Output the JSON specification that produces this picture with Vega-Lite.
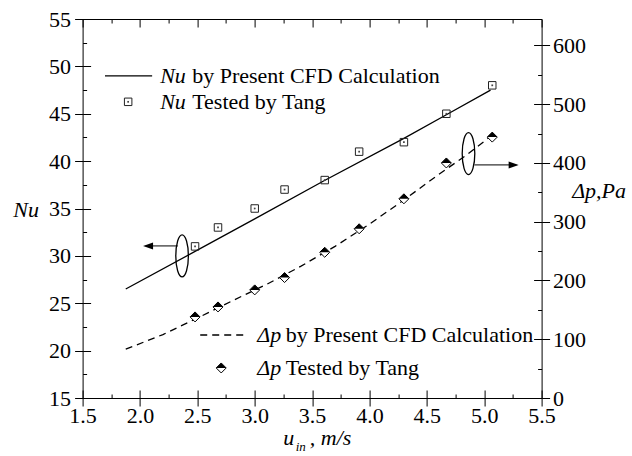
{
  "$schema": "https://vega.github.io/schema/vega-lite/v6.json",
  "width": 459,
  "height": 379,
  "autosize": {"type": "none"},
  "padding": {"left": 82.6, "top": 19, "right": 90.4, "bottom": 58},
  "background": "white",
  "config": {
    "font": "serif",
    "view": {"stroke": "black", "strokeWidth": 1},
    "axis": {
      "grid": false, "domain": false,
      "tickColor": "black", "tickWidth": 1,
      "labelColor": "black", "labelFont": "serif", "labelFontSize": 22,
      "labelFlush": false, "labelOverlap": false, "labelBound": false,
      "titleFont": "serif", "titleFontSize": 22, "titleFontStyle": "italic",
      "titleFontWeight": "normal", "titleColor": "black"
    }
  },
  "datasets": {
    "nu_calc": [
      {"u": 1.876, "Nu": 26.5}, {"u": 2.5, "Nu": 30.6}, {"u": 3.0, "Nu": 33.9},
      {"u": 3.6, "Nu": 37.9}, {"u": 4.3, "Nu": 42.4}, {"u": 4.67, "Nu": 44.9}, {"u": 5.055, "Nu": 47.5}
    ],
    "nu_test": [
      {"u": 2.48, "Nu": 31}, {"u": 2.68, "Nu": 33}, {"u": 3.0, "Nu": 35}, {"u": 3.26, "Nu": 37},
      {"u": 3.61, "Nu": 38}, {"u": 3.91, "Nu": 41}, {"u": 4.3, "Nu": 42}, {"u": 4.67, "Nu": 45}, {"u": 5.07, "Nu": 48}
    ],
    "dp_calc": [
      {"u": 1.876, "dp": 83}, {"u": 2.2, "dp": 108}, {"u": 2.5, "dp": 136}, {"u": 2.8, "dp": 165},
      {"u": 3.1, "dp": 193}, {"u": 3.4, "dp": 224}, {"u": 3.7, "dp": 258}, {"u": 4.0, "dp": 296},
      {"u": 4.3, "dp": 337}, {"u": 4.6, "dp": 380}, {"u": 4.85, "dp": 414}, {"u": 5.06, "dp": 446}
    ],
    "dp_test": [
      {"u": 2.48, "dp": 138}, {"u": 2.68, "dp": 155}, {"u": 3.0, "dp": 184}, {"u": 3.26, "dp": 205},
      {"u": 3.61, "dp": 248}, {"u": 3.91, "dp": 288}, {"u": 4.3, "dp": 339}, {"u": 4.67, "dp": 400}, {"u": 5.07, "dp": 444}
    ],
    "leg_solid": [{"u": 1.695, "u2": 2.106, "Nu": 49.0}],
    "leg_dash": [{"u": 2.525, "u2": 2.9, "Nu": 21.65}],
    "leg_square": [{"u": 1.897, "Nu": 46.26}],
    "leg_diamond": [{"u": 2.708, "Nu": 18.17}],
    "ellipses": [{"u": 2.367, "Nu": 30.0}, {"u": 4.863, "Nu": 40.8}],
    "arrows": [{"u": 2.33, "u2": 2.05, "Nu": 31.05}, {"u": 4.915, "u2": 5.28, "Nu": 39.6}],
    "head_left": [{"u": 2.027, "Nu": 31.05}],
    "head_right": [{"u": 5.30, "Nu": 39.6}],
    "txt_italic": [
      {"u": 2.176, "Nu": 49.0, "t": "Nu"},
      {"u": 2.176, "Nu": 46.26, "t": "Nu"},
      {"u": 3.022, "Nu": 21.65, "t": "Δp"},
      {"u": 3.022, "Nu": 18.17, "t": "Δp"},
      {"u": 3.249, "Nu": 10.8, "t": "u"},
      {"u": 3.48, "Nu": 10.8, "t": ", m/s"}
    ],
    "txt_regular": [
      {"u": 2.455, "Nu": 49.0, "t": "by Present CFD Calculation"},
      {"u": 2.455, "Nu": 46.26, "t": "Tested by Tang"},
      {"u": 3.27, "Nu": 21.65, "t": "by Present CFD Calculation"},
      {"u": 3.27, "Nu": 18.17, "t": "Tested by Tang"}
    ],
    "txt_sub": [{"u": 3.357, "Nu": 9.8, "t": "in"}]
  },
  "resolve": {"scale": {"y": "independent"}, "axis": {"x": "independent", "y": "independent"}},
  "layer": [
    {
      "data": {"name": "nu_calc"},
      "mark": {"type": "line", "color": "black", "strokeWidth": 1.3},
      "encoding": {
        "x": {"field": "u", "type": "quantitative", "scale": {"domain": [1.5, 5.5], "nice": false, "zero": false},
          "axis": {"orient": "bottom", "values": [1.5, 2, 2.5, 3, 3.5, 4, 4.5, 5, 5.5], "format": ".1f", "tickSize": 8, "labelPadding": -1, "title": null}},
        "y": {"field": "Nu", "type": "quantitative", "scale": {"domain": [15, 55], "nice": false, "zero": false},
          "axis": {"orient": "left", "values": [15, 20, 25, 30, 35, 40, 45, 50, 55], "tickSize": 8, "labelPadding": 4,
            "title": "Nu", "titleAngle": 0, "titleX": -57, "titleY": 190, "titleAlign": "center", "titleBaseline": "middle"}}
      }
    },
    {
      "data": {"name": "nu_test"},
      "mark": {"type": "point", "shape": "square", "size": 56, "filled": false, "color": "#222", "strokeWidth": 1, "opacity": 1},
      "encoding": {
        "x": {"field": "u", "type": "quantitative", "scale": {"domain": [1.5, 5.5], "nice": false, "zero": false},
          "axis": {"orient": "bottom", "values": [1.5, 2, 2.5, 3, 3.5, 4, 4.5, 5, 5.5], "tickSize": -8, "labels": false, "title": null}},
        "y": {"field": "Nu", "type": "quantitative", "scale": {"domain": [15, 55], "nice": false, "zero": false},
          "axis": {"orient": "left", "values": [15, 20, 25, 30, 35, 40, 45, 50, 55], "tickSize": -8, "labels": false, "title": null}}
      }
    },
    {
      "data": {"name": "nu_test"},
      "mark": {"type": "point", "shape": "square", "size": 3, "filled": true, "color": "#444", "opacity": 1},
      "encoding": {
        "x": {"field": "u", "type": "quantitative", "scale": {"domain": [1.5, 5.5], "nice": false, "zero": false},
          "axis": {"orient": "bottom", "values": [1.75, 2.25, 2.75, 3.25, 3.75, 4.25, 4.75, 5.25], "tickSize": -4, "labels": false, "title": null}},
        "y": {"field": "Nu", "type": "quantitative", "scale": {"domain": [15, 55], "nice": false, "zero": false},
          "axis": {"orient": "left", "values": [17.5, 22.5, 27.5, 32.5, 37.5, 42.5, 47.5, 52.5], "tickSize": -4, "labels": false, "title": null}}
      }
    },
    {
      "data": {"name": "dp_calc"},
      "mark": {"type": "line", "color": "black", "strokeWidth": 1.3, "strokeDash": [7, 5]},
      "encoding": {
        "x": {"field": "u", "type": "quantitative", "scale": {"domain": [1.5, 5.5], "nice": false, "zero": false},
          "axis": {"orient": "top", "values": [1.5, 2, 2.5, 3, 3.5, 4, 4.5, 5, 5.5], "tickSize": -8, "labels": false, "title": null}},
        "y": {"field": "dp", "type": "quantitative", "scale": {"domain": [0, 645], "nice": false, "zero": false},
          "axis": {"orient": "right", "values": [0, 100, 200, 300, 400, 500, 600], "tickSize": 8, "labelPadding": 3,
            "title": "Δp,Pa", "titleAngle": 0, "titleX": 57, "titleY": 171, "titleAlign": "center", "titleBaseline": "middle"}}
      }
    },
    {
      "data": {"name": "dp_test"},
      "mark": {"type": "point", "shape": "diamond", "size": 100, "filled": true, "fill": "white", "stroke": "black", "strokeWidth": 1, "opacity": 1},
      "encoding": {
        "x": {"field": "u", "type": "quantitative", "scale": {"domain": [1.5, 5.5], "nice": false, "zero": false},
          "axis": {"orient": "top", "values": [1.75, 2.25, 2.75, 3.25, 3.75, 4.25, 4.75, 5.25], "tickSize": -4, "labels": false, "title": null}},
        "y": {"field": "dp", "type": "quantitative", "scale": {"domain": [0, 645], "nice": false, "zero": false},
          "axis": {"orient": "right", "values": [0, 100, 200, 300, 400, 500, 600], "tickSize": -8, "labels": false, "title": null}}
      }
    },
    {
      "data": {"name": "dp_test"},
      "mark": {"type": "point", "shape": "M-1,0L0,-1L1,0Z", "size": 100, "filled": true, "color": "black", "opacity": 1},
      "encoding": {
        "x": {"field": "u", "type": "quantitative", "scale": {"domain": [1.5, 5.5], "nice": false, "zero": false}, "axis": null},
        "y": {"field": "dp", "type": "quantitative", "scale": {"domain": [0, 645], "nice": false, "zero": false},
          "axis": {"orient": "right", "values": [50, 150, 250, 350, 450, 550], "tickSize": -4, "labels": false, "title": null}}
      }
    },
    {
      "data": {"name": "leg_solid"},
      "mark": {"type": "rule", "color": "black", "strokeWidth": 1.3},
      "encoding": {
        "x": {"field": "u", "type": "quantitative", "scale": {"domain": [1.5, 5.5], "nice": false, "zero": false}, "axis": null},
        "x2": {"field": "u2"},
        "y": {"field": "Nu", "type": "quantitative", "scale": {"domain": [15, 55], "nice": false, "zero": false}, "axis": null}
      }
    },
    {
      "data": {"name": "leg_dash"},
      "mark": {"type": "rule", "color": "black", "strokeWidth": 1.3, "strokeDash": [7, 5]},
      "encoding": {
        "x": {"field": "u", "type": "quantitative", "scale": {"domain": [1.5, 5.5], "nice": false, "zero": false}, "axis": null},
        "x2": {"field": "u2"},
        "y": {"field": "Nu", "type": "quantitative", "scale": {"domain": [15, 55], "nice": false, "zero": false}, "axis": null}
      }
    },
    {
      "data": {"name": "leg_square"},
      "mark": {"type": "point", "shape": "square", "size": 56, "filled": false, "color": "#222", "strokeWidth": 1, "opacity": 1},
      "encoding": {
        "x": {"field": "u", "type": "quantitative", "scale": {"domain": [1.5, 5.5], "nice": false, "zero": false}, "axis": null},
        "y": {"field": "Nu", "type": "quantitative", "scale": {"domain": [15, 55], "nice": false, "zero": false}, "axis": null}
      }
    },
    {
      "data": {"name": "leg_square"},
      "mark": {"type": "point", "shape": "square", "size": 3, "filled": true, "color": "#444", "opacity": 1},
      "encoding": {
        "x": {"field": "u", "type": "quantitative", "scale": {"domain": [1.5, 5.5], "nice": false, "zero": false}, "axis": null},
        "y": {"field": "Nu", "type": "quantitative", "scale": {"domain": [15, 55], "nice": false, "zero": false}, "axis": null}
      }
    },
    {
      "data": {"name": "leg_diamond"},
      "mark": {"type": "point", "shape": "diamond", "size": 100, "filled": true, "fill": "white", "stroke": "black", "strokeWidth": 1, "opacity": 1},
      "encoding": {
        "x": {"field": "u", "type": "quantitative", "scale": {"domain": [1.5, 5.5], "nice": false, "zero": false}, "axis": null},
        "y": {"field": "Nu", "type": "quantitative", "scale": {"domain": [15, 55], "nice": false, "zero": false}, "axis": null}
      }
    },
    {
      "data": {"name": "leg_diamond"},
      "mark": {"type": "point", "shape": "M-1,0L0,-1L1,0Z", "size": 100, "filled": true, "color": "black", "opacity": 1},
      "encoding": {
        "x": {"field": "u", "type": "quantitative", "scale": {"domain": [1.5, 5.5], "nice": false, "zero": false}, "axis": null},
        "y": {"field": "Nu", "type": "quantitative", "scale": {"domain": [15, 55], "nice": false, "zero": false}, "axis": null}
      }
    },
    {
      "data": {"name": "ellipses"},
      "mark": {"type": "point", "shape": "M0,-1A0.3,1 0 1,1 0,1A0.3,1 0 1,1 0,-1Z", "size": 1764, "filled": false, "color": "black", "strokeWidth": 1.3, "opacity": 1},
      "encoding": {
        "x": {"field": "u", "type": "quantitative", "scale": {"domain": [1.5, 5.5], "nice": false, "zero": false}, "axis": null},
        "y": {"field": "Nu", "type": "quantitative", "scale": {"domain": [15, 55], "nice": false, "zero": false}, "axis": null}
      }
    },
    {
      "data": {"name": "arrows"},
      "mark": {"type": "rule", "color": "black", "strokeWidth": 1},
      "encoding": {
        "x": {"field": "u", "type": "quantitative", "scale": {"domain": [1.5, 5.5], "nice": false, "zero": false}, "axis": null},
        "x2": {"field": "u2"},
        "y": {"field": "Nu", "type": "quantitative", "scale": {"domain": [15, 55], "nice": false, "zero": false}, "axis": null}
      }
    },
    {
      "data": {"name": "head_left"},
      "mark": {"type": "point", "shape": "M0,0L1,-0.35L1,0.35Z", "size": 400, "filled": true, "color": "black", "opacity": 1},
      "encoding": {
        "x": {"field": "u", "type": "quantitative", "scale": {"domain": [1.5, 5.5], "nice": false, "zero": false}, "axis": null},
        "y": {"field": "Nu", "type": "quantitative", "scale": {"domain": [15, 55], "nice": false, "zero": false}, "axis": null}
      }
    },
    {
      "data": {"name": "head_right"},
      "mark": {"type": "point", "shape": "M0,0L-1,-0.35L-1,0.35Z", "size": 400, "filled": true, "color": "black", "opacity": 1},
      "encoding": {
        "x": {"field": "u", "type": "quantitative", "scale": {"domain": [1.5, 5.5], "nice": false, "zero": false}, "axis": null},
        "y": {"field": "Nu", "type": "quantitative", "scale": {"domain": [15, 55], "nice": false, "zero": false}, "axis": null}
      }
    },
    {
      "data": {"name": "txt_italic"},
      "mark": {"type": "text", "align": "left", "baseline": "middle", "font": "serif", "fontSize": 22, "fontStyle": "italic", "color": "black"},
      "encoding": {
        "x": {"field": "u", "type": "quantitative", "scale": {"domain": [1.5, 5.5], "nice": false, "zero": false}, "axis": null},
        "y": {"field": "Nu", "type": "quantitative", "scale": {"domain": [15, 55], "nice": false, "zero": false}, "axis": null},
        "text": {"field": "t"}
      }
    },
    {
      "data": {"name": "txt_regular"},
      "mark": {"type": "text", "align": "left", "baseline": "middle", "font": "serif", "fontSize": 22, "color": "black"},
      "encoding": {
        "x": {"field": "u", "type": "quantitative", "scale": {"domain": [1.5, 5.5], "nice": false, "zero": false}, "axis": null},
        "y": {"field": "Nu", "type": "quantitative", "scale": {"domain": [15, 55], "nice": false, "zero": false}, "axis": null},
        "text": {"field": "t"}
      }
    },
    {
      "data": {"name": "txt_sub"},
      "mark": {"type": "text", "align": "left", "baseline": "middle", "font": "serif", "fontSize": 13, "fontStyle": "italic", "color": "black"},
      "encoding": {
        "x": {"field": "u", "type": "quantitative", "scale": {"domain": [1.5, 5.5], "nice": false, "zero": false}, "axis": null},
        "y": {"field": "Nu", "type": "quantitative", "scale": {"domain": [15, 55], "nice": false, "zero": false}, "axis": null},
        "text": {"field": "t"}
      }
    }
  ]
}
